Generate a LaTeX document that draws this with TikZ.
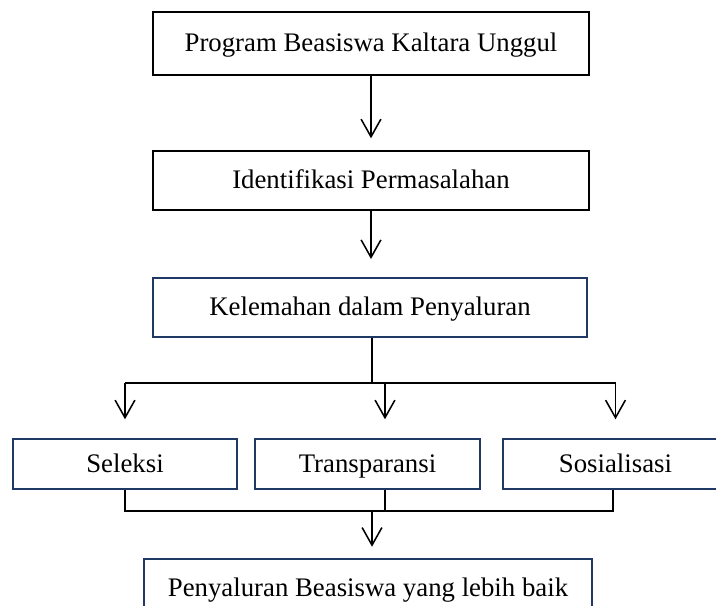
\documentclass[tikz,border=0pt]{standalone}
\usepackage{fontspec}
\setmainfont{Liberation Serif}
\usetikzlibrary{arrows.meta}
\definecolor{boxnavy}{HTML}{1F3864}

\begin{document}
\begin{tikzpicture}[x=0.016cm, y=-0.016cm,
    box/.style={draw, line width=0.9pt, inner sep=0pt, align=center,
      text height=0.9em, text depth=0.15em,
      font=\fontsize{12.2}{14}\selectfont},
    navybox/.style={box, draw=boxnavy},
    link/.style={line width=0.7pt},
    flow/.style={link, -{Straight Barb[length=8pt, width=9pt, line width=0.7pt]}}]
  \clip (0,0) rectangle (716,606);

  % Main chain
  \node[box, minimum width=6.99cm, minimum height=1.01cm] (program) at (371, 43.5)
    {Program Beasiswa Kaltara Unggul};
  \node[box, minimum width=6.99cm, minimum height=0.94cm] (ident) at (371, 180.5)
    {Identifikasi Permasalahan};
  \node[navybox, minimum width=6.96cm, minimum height=0.94cm] (lemah) at (370, 307.5)
    {Kelemahan dalam Penyaluran};

  % Three aspects
  \node[navybox, minimum width=3.58cm, minimum height=0.80cm] (seleksi) at (125, 464)
    {Seleksi};
  \node[navybox, minimum width=3.60cm, minimum height=0.80cm] (transparansi) at (367.5, 464)
    {Transparansi};
  \node[navybox, minimum width=3.60cm, minimum height=0.80cm] (sosialisasi) at (615.5, 464)
    {Sosialisasi};

  % Result
  \node[navybox, minimum width=7.17cm, minimum height=0.93cm] (hasil) at (368, 588)
    {Penyaluran Beasiswa yang lebih baik};

  % Arrows down the chain
  \draw[flow, shorten >=0.19cm] (program.south) -- (ident.north);
  \draw[flow, shorten >=0.29cm] (ident.south) -- (ident.south |- lemah.north);

  % Fork to the three aspects
  \coordinate (fork) at (372, 383);
  \draw[link] (lemah.south -| fork) -- (fork);
  \draw[link] (seleksi.north |- fork) -- (sosialisasi.north |- fork);
  \draw[flow, shorten >=0.30cm] (seleksi.north |- fork) -- (seleksi.north);
  \draw[flow, shorten >=0.30cm] ([xshift=0.28cm]transparansi.north |- fork)
    -- ([xshift=0.28cm]transparansi.north);
  \draw[flow, shorten >=0.30cm] (sosialisasi.north |- fork) -- (sosialisasi.north);

  % Join to the result
  \coordinate (join) at (372, 511);
  \draw[link] (seleksi.south) -- (seleksi.south |- join)
    -- ([xshift=-0.04cm]sosialisasi.south |- join) -- ([xshift=-0.04cm]sosialisasi.south);
  \draw[link] ([xshift=0.28cm]transparansi.south) -- ([xshift=0.28cm]transparansi.south |- join);
  \draw[flow, shorten >=0.18cm] (join) -- (join |- hasil.north);
\end{tikzpicture}
\end{document}
